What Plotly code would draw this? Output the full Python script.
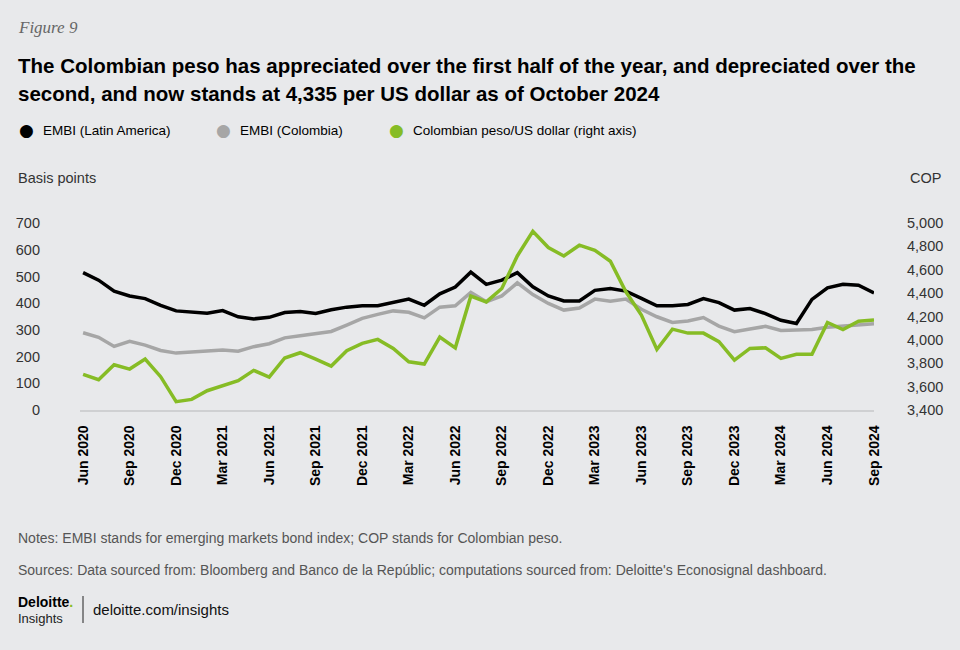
import plotly.graph_objects as go
import pandas as pd

# ---- data ----
months = [d.strftime("%b %Y") for d in pd.date_range("2020-06-01", periods=52, freq="MS")]
tick_labels = months[::3]

embi_latam = [514, 486, 445, 427, 417, 392, 371, 366, 362, 372, 349, 341, 347, 365,
              369, 361, 375, 385, 390, 390, 401, 415, 392, 435, 460, 516, 470,
              486, 514, 461, 427, 408, 408, 448, 455, 445, 418, 390, 390, 395,
              417, 402, 374, 380, 361, 336, 324, 414, 457, 471, 467, 438]
embi_col = [289, 272, 238, 257, 243, 223, 213, 217, 218, 225, 220, 237, 248, 270,
            278, 286, 294, 318, 343, 358, 371, 366, 345, 385, 390, 440, 405,
            427, 476, 432, 399, 374, 382, 415, 407, 415, 377, 349, 328, 333,
            346, 314, 293, 303, 313, 298, 301, 301, 310, 315, 318, 323]
cop_usd = [3705, 3659, 3787, 3750, 3836, 3685, 3471, 3491, 3565, 3611, 3650, 3739, 3682, 3845,
           3890, 3836, 3776, 3907, 3970, 4004, 3927, 3813, 3793, 4024, 3932, 4374, 4325,
           4440, 4718, 4929, 4790, 4718, 4810, 4767, 4673, 4411, 4212, 3918, 4092, 4058,
           4058, 3984, 3827, 3927, 3932, 3842, 3876, 3876, 4149, 4089, 4160, 4169]

left_ticks = [0, 100, 200, 300, 400, 500, 600, 700]
right_ticks = [3400, 3600, 3800, 4000, 4200, 4400, 4600, 4800, 5000]

BLACK = "#000000"
GRAY = "#a6a6a6"
GREEN = "#86bc25"
BG = "#e8e9eb"
SANS = "Liberation Sans, Arial, sans-serif"

W, H = 960, 650
PT, PB = 223, 410  # plot area top / bottom in px


def py(px):
    return (PB - px) / (PB - PT)


def px_x(px, l=80, r=874):
    return (px - l) / (r - l)


fig = go.Figure()
fig.add_trace(go.Scatter(x=months, y=embi_latam, mode="lines", name="EMBI (Latin America)",
                         line=dict(color=BLACK, width=3.5), yaxis="y"))
fig.add_trace(go.Scatter(x=months, y=embi_col, mode="lines", name="EMBI (Colombia)",
                         line=dict(color=GRAY, width=3.5), yaxis="y"))
fig.add_trace(go.Scatter(x=months, y=cop_usd, mode="lines", name="Colombian peso/US dollar (right axis)",
                         line=dict(color=GREEN, width=3.5), yaxis="y2"))

fig.update_layout(
    width=W, height=H,
    paper_bgcolor=BG, plot_bgcolor=BG,
    margin=dict(l=80, r=W - 874, t=PT, b=H - PB),
    showlegend=False,
    xaxis=dict(type="category", range=[-0.2, 51], tickmode="array", tickvals=tick_labels,
               ticktext=["<b>%s</b>" % t for t in tick_labels], tickangle=-90,
               tickfont=dict(family=SANS, size=14, color="#000"),
               showgrid=False, zeroline=False, showline=True, linecolor="#cfd0d2", linewidth=1.5,
               ticks="", ticklabelstandoff=8),
    yaxis=dict(range=[0, 700], tickvals=left_ticks, showgrid=False, zeroline=False,
               tickfont=dict(family=SANS, size=14.5, color="#333"), ticks="",
               ticklabelstandoff=39),
    yaxis2=dict(range=[3400, 5000], tickvals=right_ticks, tickformat=",", overlaying="y",
                side="right", showgrid=False, zeroline=False,
                tickfont=dict(family=SANS, size=14.5, color="#333"), ticks="",
                ticklabelstandoff=32),
)

ann = []


def text(x, y, s, size, color="#000", family=SANS, xanchor="left", yanchor="middle", align="left"):
    ann.append(dict(xref="paper", yref="paper", x=px_x(x), y=py(y), text=s, showarrow=False,
                    xanchor=xanchor, yanchor=yanchor, align=align,
                    font=dict(size=size, color=color, family=family)))


text(16, 28, "<i>Figure 9</i>", 17, "#666", "Liberation Serif, Times New Roman, serif")
text(16, 65, "<b>The Colombian peso has appreciated over the first half of the year, and depreciated over the</b>", 20.5)
text(16, 93, "<b>second, and now stands at 4,335 per US dollar as of October 2024</b>", 20.5)

legend_items = [(17, BLACK, "EMBI (Latin America)"), (214, GRAY, "EMBI (Colombia)"),
                (387, GREEN, "Colombian peso/US dollar (right axis)")]
for lx, col, lab in legend_items:
    text(lx, 130, "●", 17, col, "DejaVu Sans")
    text(lx + 24, 130, lab, 13.5, "#000")

text(16, 178, "Basis points", 14.5, "#333")
text(943, 178, "COP", 14.5, "#333", xanchor="right")

text(16, 538, "Notes: EMBI stands for emerging markets bond index; COP stands for Colombian peso.", 14, "#555")
text(16, 570, "Sources: Data sourced from: Bloomberg and Banco de la Repúblic; computations sourced from: Deloitte's Econosignal dashboard.", 14, "#555")

text(16, 602, "<b>Deloitte</b><b><span style='color:%s'>.</span></b>" % GREEN, 14, "#000")
text(16, 618, "Insights", 13, "#222")
text(91, 609, "deloitte.com/insights", 15, "#111")

fig.update_layout(annotations=ann)
fig.add_shape(type="line", xref="paper", yref="paper", x0=px_x(83), x1=px_x(83), y0=py(596), y1=py(623),
              line=dict(color="#222", width=1))

fig.write_html("out.html", config={"displayModeBar": False},
               post_script="document.body.style.margin='0';document.body.style.background='%s';" % BG)
